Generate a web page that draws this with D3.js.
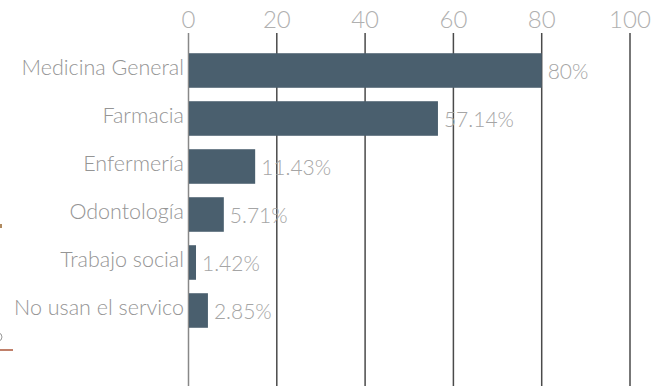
<!DOCTYPE html>
<html><head><meta charset="utf-8">
<script src="https://cdn.jsdelivr.net/npm/d3@7"></script>
<style>
html,body{margin:0;padding:0;background:#fff;}
svg{display:block;font-family:Lato,"Open Sans",sans-serif;font-weight:300;}
</style></head>
<body>
<svg id="chart" width="672" height="386"></svg>
<script>
const categories = ["Medicina General","Farmacia","Enfermería","Odontología","Trabajo social","No usan el servico"];
const barValues = [80, 56.5, 15.1, 8.0, 1.7, 4.4];
const valueLabels = ["80%","57.14%","11.43%","5.71%","1.42%","2.85%"];
const tickValues = [0,20,40,60,80,100];

const svg = d3.select("#chart");
const x = d3.scaleLinear().domain([0,100]).range([188.5,630]);
const y = d3.scaleBand().domain(categories).range([46.5,334.5]).paddingInner(0.28).paddingOuter(0.14);

// gridlines
svg.append("g").selectAll("line").data(tickValues).join("line")
  .attr("x1",d=>x(d)).attr("x2",d=>x(d)).attr("y1",33).attr("y2",386)
  .attr("stroke",d=>d===0?"#888":"#4a4a4a").attr("stroke-width",1.5);

// tick labels
svg.append("g").selectAll("text").data(tickValues).join("text")
  .attr("x",d=>x(d)).attr("y",28).attr("text-anchor","middle")
  .attr("font-size",24).attr("fill","#b0b0b0").text(d=>d);

// bars
svg.append("g").selectAll("rect").data(categories).join("rect")
  .attr("x",x(0)+0.5).attr("y",d=>y(d))
  .attr("width",(d,i)=>x(barValues[i])-x(0)-0.5).attr("height",y.bandwidth())
  .attr("fill","#4a5f6e");

// category labels
svg.append("g").selectAll("text").data(categories).join("text")
  .attr("x",184).attr("y",d=>y(d)+y.bandwidth()/2-3.5).attr("dy","0.35em")
  .attr("text-anchor","end").attr("font-size",21.5).attr("fill","#959595").text(d=>d);

// value labels
svg.append("g").selectAll("text").data(categories).join("text")
  .attr("x",(d,i)=>x(barValues[i])+6).attr("y",d=>y(d)+y.bandwidth()/2+1.5).attr("dy","0.35em")
  .attr("font-size",21).attr("fill","#a5a5a5").text((d,i)=>valueLabels[i]);

// cropped remnants on the left edge
svg.append("rect").attr("x",0).attr("y",224).attr("width",2).attr("height",4).attr("fill","#b08a60");
svg.append("circle").attr("cx",-2).attr("cy",337).attr("r",4).attr("fill","none").attr("stroke","#999").attr("stroke-width",1);
svg.append("rect").attr("x",0).attr("y",349).attr("width",13).attr("height",2).attr("fill","#c0806a");
</script>
</body></html>
